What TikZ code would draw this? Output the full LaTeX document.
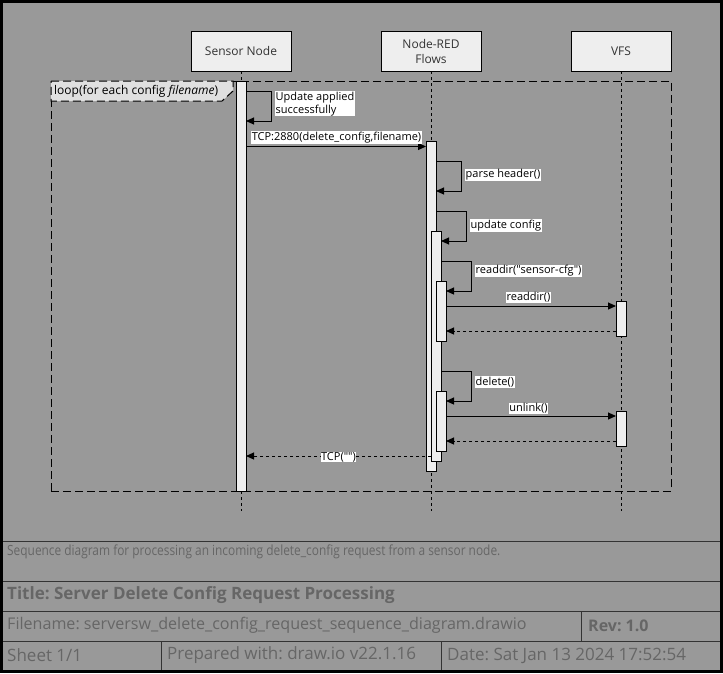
\documentclass[tikz,border=0pt]{standalone}
\usepackage{fontspec}
\setmainfont{Open Sans}
\newfontfamily\condfont[FakeStretch=0.85]{Open Sans}
\usetikzlibrary{arrows.meta}
\definecolor{bg}{HTML}{999999}
\definecolor{boxfill}{HTML}{EEEEEE}
\definecolor{tabfill}{HTML}{E0E0E0}
\definecolor{foot}{HTML}{666666}
\definecolor{footline}{HTML}{333333}
\frenchspacing
\begin{document}
\begin{tikzpicture}[x=1pt,y=-1pt,
  lbox/.style={draw=black, fill=boxfill, line width=1pt, minimum width=100pt, minimum height=40pt, inner sep=0pt, outer sep=0pt, align=center, text=black!80, font=\fontsize{12}{15}\selectfont},
  bar/.style={draw=black, fill=boxfill, line width=1pt, minimum width=10pt, inner sep=0pt, outer sep=0pt},
  lifeline/.style={black, line width=1pt, dash pattern=on 3pt off 3pt},
  frameline/.style={black, line width=1pt, dash pattern=on 8pt off 4pt},
  msg/.style={black, line width=1pt, -{Triangle[length=8pt,width=7pt]}},
  retmsg/.style={msg, dash pattern=on 3pt off 3pt},
  lbl/.style={fill=white, inner sep=0.5pt, text=black, font=\fontsize{11}{13}\selectfont},
  foottext/.style={anchor=west, inner sep=0pt, text=foot, font=\fontsize{17}{20}\selectfont},
  footrule/.style={footline, line width=1pt}
]
\fill[bg] (0,0) rectangle (723,673);
\useasboundingbox (0,0) rectangle (723,673);

% loop frame
\node[draw=black, frameline, minimum width=620pt, minimum height=410pt, inner sep=0pt, outer sep=0pt, anchor=north west] (loop) at (51,81) {};
\draw[frameline, fill=tabfill] (loop.north west) -- ++(182,0) -- ++(0,10) -- ++(-11,10) -- ++(-171,0) -- cycle;
\node[anchor=west, inner sep=0pt, text=black, font=\fontsize{12}{15}\selectfont] (looplbl) at (54,91) {loop(for each config \textit{filename})};

% lifeline heads
\node[lbox] (sn) at (241,51) {Sensor Node};
\node[lbox] (nr) at (431,51) {Node-RED\\Flows};
\node[lbox] (vfs) at (621,51) {VFS};
\coordinate (snend) at (241,511);
\coordinate (nrend) at (431,511);
\coordinate (vfsend) at (621,511);
\draw[lifeline] (sn.south) -- (snend);
\draw[lifeline] (nr.south) -- (nrend);
\draw[lifeline] (vfs.south) -- (vfsend);

% activation bars
\node[bar, minimum height=410pt, anchor=north] (a0) at (241,81) {};
\node[bar, minimum height=330pt, anchor=north] (a1) at (431,141) {};
\node[bar, minimum height=230pt, anchor=north] (a2) at (436,231) {};
\node[bar, minimum height=60pt, anchor=north] (a3) at (441,281) {};
\node[bar, minimum height=60pt, anchor=north] (a4) at (441,391) {};
\node[bar, minimum height=35pt, anchor=north] (v1) at (621,301) {};
\node[bar, minimum height=35pt, anchor=north] (v2) at (621,411) {};

% messages
\draw[msg] ([yshift=-10pt]a0.north east) -- ++(25,0) |- ([yshift=-40pt]a0.north east);
\draw[msg] ([yshift=-65.5pt]a0.north east) -- ([yshift=-5.5pt]a1.north west);
\draw[msg] ([yshift=-20pt]a1.north east) -- ++(25,0) |- ([yshift=-50pt]a1.north east);
\draw[msg] ([yshift=-70pt]a1.north east) -- ++(30,0) |- ([yshift=-10pt]a2.north east);
\draw[msg] ([yshift=-30pt]a2.north east) -- ++(30,0) |- ([yshift=-10pt]a3.north east);
\draw[msg] ([yshift=-25pt]a3.north east) -- ([yshift=-5pt]v1.north west);
\draw[retmsg] ([yshift=-30pt]v1.north west) -- ([yshift=-50pt]a3.north east);
\draw[msg] ([yshift=-140pt]a2.north east) -- ++(30,0) |- ([yshift=-10pt]a4.north east);
\draw[msg] ([yshift=-25pt]a4.north east) -- ([yshift=-5pt]v2.north west);
\draw[retmsg] ([yshift=-30pt]v2.north west) -- ([yshift=-50pt]a4.north east);
\draw[retmsg] ([yshift=-225pt]a2.north west) -- ([yshift=-375pt]a0.north east);

% message labels
\node[lbl, anchor=north west, align=left] (l0) at (275,91) {Update applied\\successfully};
\node[lbl] (l1) at (336.5,137.5) {TCP:2880(delete\_config,filename)};
\node[lbl, anchor=west] (l2) at (465,175) {parse header()};
\node[lbl, anchor=west] (l3) at (470,225.5) {update config};
\node[lbl, anchor=west] (l4) at (475,271) {readdir(\textquotedbl sensor-cfg\textquotedbl)};
\node[lbl] (l5) at (528.5,297.5) {readdir()};
\node[lbl, anchor=west] (l6) at (475,382) {delete()};
\node[lbl] (l7) at (528.5,408.5) {unlink()};
\node[lbl] (l8) at (338.5,457) {TCP(\textquotedbl\textquotedbl)};

% footer
\coordinate (fl) at (3,541);
\coordinate (fr) at (720,541);
\draw[footrule] (fl) -- (fr);
\draw[footrule] (3,581) -- (720,581);
\draw[footrule] (3,611) -- (720,611);
\draw[footrule] (3,641) -- (720,641);
\draw[footrule] (581.5,611) -- (581.5,641);
\draw[footrule] (161.5,641) -- (161.5,670);
\draw[footrule] (441.5,641) -- (441.5,670);
\node[foottext, font=\condfont\fontsize{14}{16}\selectfont] (desc) at (7,551.5) {Sequence diagram for processing an incoming delete\_config request from a sensor node.};
\node[foottext, font=\bfseries\fontsize{17}{20}\selectfont] (title) at (7,595.5) {Title: Server Delete Config Request Processing};
\node[foottext, font=\fontsize{16.1}{19}\selectfont] (fname) at (7,625.5) {Filename: serversw\_delete\_config\_request\_sequence\_diagram.drawio};
\node[foottext, font=\bfseries\fontsize{16}{19}\selectfont] (rev) at (588,625.5) {Rev: 1.0};
\node[foottext] (sheet) at (7,655.5) {Sheet 1/1};
\node[foottext] (prep) at (167,655.5) {Prepared with: draw.io v22.1.16};
\node[foottext] (date) at (447,655.5) {Date: Sat Jan 13 2024 17:52:54};

\draw[black, line width=3pt] (1.5,1.5) rectangle (721.5,671.5);
\end{tikzpicture}
\end{document}
